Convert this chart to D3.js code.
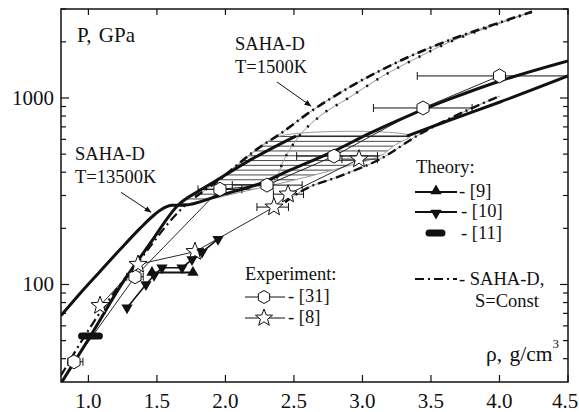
<!DOCTYPE html>
<html><head><meta charset="utf-8">
<script src="https://cdn.jsdelivr.net/npm/d3@7"></script>
</head><body style="margin:0;background:#fff">
<svg id="c" width="579" height="412" style="display:block"></svg>
<script>
// ---------- data ----------
const xTicks=[1.0,1.5,2.0,2.5,3.0,3.5,4.0,4.5];
const xTickLabels=["1.0","1.5","2.0","2.5","3.0","3.5","4.0","4.5"];
const yMajor=[100,1000];
const yMajorLabels=["100","1000"];
const yMinor=[40,50,60,70,80,90,200,300,400,500,600,700,800,900,2000,3000];

// SAHA-D T=13500K isotherm (thick, with plateau)
const sahaT13500=[[0.80,68.1],[0.939,89.5],[1.085,117.5],[1.231,154],[1.377,200],[1.486,238],[1.559,259],[1.610,266],[1.690,266],[1.960,301],[2.274,353],[2.471,410],[2.792,519],[3.055,648],[3.347,810],[3.639,988],[4.004,1234],[4.50,1581]];
// second thick curve (lower-left branch, plateau, upper-right branch)
const thickLeft=[[0.80,29.5],[1.012,52.5],[1.245,101],[1.450,166],[1.654,266],[1.814,320],[1.960,371],[2.179,464],[2.398,566],[2.515,625]];
const plateau=[[2.515,625],[3.325,625]];
const thickRight=[[3.325,625],[3.639,762],[4.004,952],[4.50,1313]];
// SAHA-D T=1500K curves
const saha1500a=[[1.778,294],[1.960,367],[2.230,532],[2.398,641],[2.617,841],[2.909,1146],[3.274,1581],[3.639,2050],[3.931,2438],[4.237,2900]];
const saha1500b=[[2.340,324],[2.376,376],[2.420,453],[2.522,602],[2.690,800],[2.887,988],[3.150,1313],[3.398,1641],[3.639,2000],[3.931,2408],[4.237,2900]];
// SAHA-D isentropes S=Const
const isenA=[[0.80,32.5],[1.012,58.7],[1.194,91.7],[1.413,147],[1.595,218],[1.705,266]];
const isenB=[[2.435,276],[2.566,320],[2.836,381],[3.128,470],[3.420,641],[3.785,873],[4.004,1025]];
// two-phase region boundary
const regionUpper=[[1.668,269],[1.814,316],[1.960,376],[2.106,447],[2.230,532],[2.398,625],[3.347,625]];
const regionLower=[[3.237,559],[3.128,488],[2.887,431],[2.617,381],[2.376,345],[2.106,312],[1.887,286]];
// theory
const theory9=[[1.464,116],[1.763,116]];
const theory10=[[1.282,75],[1.420,100],[1.479,112],[1.537,123],[1.683,123],[1.756,136],[1.829,149],[1.946,175]];
const theory11=[[0.95,53],[1.08,53]];
// experiment
const exp31=[[0.895,38.5],[1.340,110],[1.960,324],[2.303,341],[2.792,488],[3.442,884],[4.0,1313]];
const exp31Err=[[0.85,0.96],[1.28,1.40],[1.80,2.12],[2.05,2.56],[2.52,3.11],[3.08,3.80],[3.40,4.60]];
const exp8=[[1.085,77],[1.362,128],[1.778,150],[2.354,260],[2.457,305],[2.975,470]];
const exp8Err=[null,null,null,[2.23,2.46],[2.35,2.57],[2.85,3.11]];

// ---------- scales ----------
const svg=d3.select("#c");
const L=61,R=568,T=9,B=382;
const x=d3.scaleLinear().domain([0.8,4.5]).range([L,R]);
const y=d3.scaleLog().domain([30,3000]).range([B,T]);
const lineM=d3.line().x(d=>x(d[0])).y(d=>y(d[1])).curve(d3.curveMonotoneX);
const lineL=d3.line().x(d=>x(d[0])).y(d=>y(d[1]));

function label(px,py,str,size,anchor){
  const t=svg.append("text").attr("x",px).attr("y",py).attr("font-size",size)
    .attr("font-family","Tinos, Liberation Serif, Times New Roman")
    .style("font-family","'Tinos', 'Liberation Serif', 'Times New Roman'")
    .attr("fill","#111").text(str);
  if(anchor) t.attr("text-anchor",anchor);
  return t;
}

const defs=svg.append("defs");
defs.append("clipPath").attr("id","plot").append("rect").attr("x",L).attr("y",T).attr("width",R-L).attr("height",B-T);
const regionPts=regionUpper.concat(regionLower);
const regionPath=d3.line().x(d=>x(d[0])).y(d=>y(d[1])).curve(d3.curveCatmullRomClosed.alpha(0.5))(regionPts);
defs.append("clipPath").attr("id","reg").append("path").attr("d",regionPath);
defs.append("marker").attr("id","arr").attr("viewBox","0 0 10 10").attr("refX",9).attr("refY",5)
  .attr("markerWidth",9).attr("markerHeight",7).attr("orient","auto").attr("markerUnits","userSpaceOnUse")
  .append("path").attr("d","M0,1 L10,5 L0,9 Z").attr("fill","#111");

const pg=svg.append("g").attr("clip-path","url(#plot)");

// hatched region
const hg=pg.append("g").attr("clip-path","url(#reg)");
d3.range(y(625)+0.5,y(262),4.8).forEach(yy=>{
  hg.append("line").attr("x1",x(1.6)).attr("x2",x(3.4)).attr("y1",yy).attr("y2",yy)
    .attr("stroke","#333").attr("stroke-width",0.9);
});
pg.append("path").attr("d",regionPath).attr("fill","none").attr("stroke","#999").attr("stroke-width",1);

// gray base lines
[saha1500a,saha1500b,isenB].forEach(d=>{
  pg.append("path").attr("d",lineM(d)).attr("fill","none").attr("stroke","#9a9a9a").attr("stroke-width",1);
});

// experimental connecting lines
pg.append("path").attr("d",lineL(exp31)).attr("fill","none").attr("stroke","#111").attr("stroke-width",0.9);
pg.append("path").attr("d",lineL(exp8)).attr("fill","none").attr("stroke","#111").attr("stroke-width",0.9);

// theory lines
pg.append("path").attr("d",lineL(theory10)).attr("fill","none").attr("stroke","#111").attr("stroke-width",1.6);
pg.append("path").attr("d",lineL(theory9)).attr("fill","none").attr("stroke","#111").attr("stroke-width",2);

// thick curves
[sahaT13500,thickLeft,thickRight].forEach(d=>{
  pg.append("path").attr("d",lineM(d)).attr("fill","none").attr("stroke","#111").attr("stroke-width",3).attr("stroke-linejoin","round");
});
pg.append("path").attr("d",lineL(plateau)).attr("fill","none").attr("stroke","#222").attr("stroke-width",1.3);

// dashed overlays
pg.append("path").attr("d",lineM(saha1500a)).attr("fill","none").attr("stroke","#111").attr("stroke-width",2.6).attr("stroke-dasharray","9,4,2,4");
pg.append("path").attr("d",lineM(saha1500b)).attr("fill","none").attr("stroke","#111").attr("stroke-width",2.6).attr("stroke-dasharray","2,10");
pg.append("path").attr("d",lineM(isenA)).attr("fill","none").attr("stroke","#111").attr("stroke-width",2.2).attr("stroke-dasharray","9,4,2,4");
pg.append("path").attr("d",lineM(isenB)).attr("fill","none").attr("stroke","#111").attr("stroke-width",2.4).attr("stroke-dasharray","9,4,2,4");

// error bars
function errBar(pts,errs){
  pts.forEach((p,i)=>{
    const e=errs[i]; if(!e) return;
    const yy=y(p[1]);
    pg.append("line").attr("x1",x(e[0])).attr("x2",x(e[1])).attr("y1",yy).attr("y2",yy).attr("stroke","#111").attr("stroke-width",1);
    e.forEach(v=>pg.append("line").attr("x1",x(v)).attr("x2",x(v)).attr("y1",yy-4).attr("y2",yy+4).attr("stroke","#111").attr("stroke-width",1));
  });
}
errBar(exp31,exp31Err);
errBar(exp8,exp8Err);

// markers
function hexPath(r){let s="";for(let k=0;k<6;k++){const a=Math.PI/2+k*Math.PI/3;s+=(k?"L":"M")+(r*Math.cos(a)).toFixed(2)+","+(r*Math.sin(a)).toFixed(2);}return s+"Z";}
function starPath(R1,r1){let s="";for(let k=0;k<10;k++){const rr=k%2?r1:R1;const a=-Math.PI/2+k*Math.PI/5;s+=(k?"L":"M")+(rr*Math.cos(a)).toFixed(2)+","+(rr*Math.sin(a)).toFixed(2);}return s+"Z";}
const tri=d3.symbol(d3.symbolTriangle,55)();
pg.selectAll(".hex").data(exp31).enter().append("path").attr("d",hexPath(7))
  .attr("transform",d=>`translate(${x(d[0])},${y(d[1])})`).attr("fill","#fff").attr("stroke","#111").attr("stroke-width",1);
pg.selectAll(".star").data(exp8).enter().append("path").attr("d",starPath(9.5,4))
  .attr("transform",d=>`translate(${x(d[0])},${y(d[1])})`).attr("fill","#fff").attr("stroke","#111").attr("stroke-width",1);
pg.selectAll(".t9").data(theory9).enter().append("path").attr("d",tri)
  .attr("transform",d=>`translate(${x(d[0])},${y(d[1])})`).attr("fill","#111");
pg.selectAll(".t10").data(theory10).enter().append("path").attr("d",tri)
  .attr("transform",d=>`translate(${x(d[0])},${y(d[1])}) rotate(180)`).attr("fill","#111");
pg.append("path").attr("d",lineL(theory11)).attr("stroke","#111").attr("stroke-width",7).attr("stroke-linecap","round");

// arrows
const arrows=[[[1.238,312],[1.457,244]],[[2.376,1219],[2.624,906]]];
arrows.forEach(a=>{
  svg.append("line").attr("x1",x(a[0][0])).attr("y1",y(a[0][1])).attr("x2",x(a[1][0])).attr("y2",y(a[1][1]))
    .attr("stroke","#111").attr("stroke-width",1).attr("marker-end","url(#arr)");
});

// ---------- axes ----------
svg.append("rect").attr("x",L).attr("y",T).attr("width",R-L).attr("height",B-T).attr("fill","none").attr("stroke","#111").attr("stroke-width",1.5);
const ax=svg.append("g").attr("stroke","#111").attr("stroke-width",1.2);
xTicks.forEach(v=>{
  ax.append("line").attr("x1",x(v)).attr("x2",x(v)).attr("y1",B).attr("y2",B-7);
  ax.append("line").attr("x1",x(v)).attr("x2",x(v)).attr("y1",T).attr("y2",T+6);
});
yMajor.forEach(v=>{
  ax.append("line").attr("x1",L).attr("x2",L+8).attr("y1",y(v)).attr("y2",y(v));
  ax.append("line").attr("x1",R).attr("x2",R-8).attr("y1",y(v)).attr("y2",y(v));
});
yMinor.forEach(v=>{
  ax.append("line").attr("x1",L).attr("x2",L+5).attr("y1",y(v)).attr("y2",y(v));
  ax.append("line").attr("x1",R).attr("x2",R-5).attr("y1",y(v)).attr("y2",y(v));
});
xTicks.forEach((v,i)=>label(Math.min(x(v),565),408,xTickLabels[i],21,"middle"));
yMajor.forEach((v,i)=>label(54,y(v)+7,yMajorLabels[i],21,"end"));

// ---------- texts ----------
label(77,42,"P, GPa",21).style("word-spacing","2px");
const rl=label(486,361,"",21.5).style("word-spacing","2px");
rl.append("tspan").text("ρ, g/cm");
rl.append("tspan").attr("dy",-13).attr("font-size",13).text("3");
label(235,50,"SAHA-D",18.5);
label(235,73,"T=1500K",18.5);
label(75,160,"SAHA-D",18.5);
label(75,183,"T=13500K",18.5);

// legend: theory
label(416,173,"Theory:",18.5);
const lg=svg.append("g");
lg.append("line").attr("x1",415).attr("x2",457).attr("y1",192).attr("y2",192).attr("stroke","#111").attr("stroke-width",2);
lg.append("path").attr("d",tri).attr("transform","translate(436,191)").attr("fill","#111");
label(459,197,"- [9]",18.5);
lg.append("line").attr("x1",415).attr("x2",457).attr("y1",212).attr("y2",212).attr("stroke","#111").attr("stroke-width",2);
lg.append("path").attr("d",tri).attr("transform","translate(436,213) rotate(180)").attr("fill","#111");
label(461,217,"- [10]",18.5);
lg.append("line").attr("x1",429).attr("x2",442).attr("y1",233).attr("y2",233).attr("stroke","#111").attr("stroke-width",7).attr("stroke-linecap","round");
label(461,239,"- [11]",18.5);
lg.append("line").attr("x1",415).attr("x2",457).attr("y1",279).attr("y2",279).attr("stroke","#111").attr("stroke-width",2).attr("stroke-dasharray","9,4,2,4");
label(459,285,"- SAHA-D,",18.5);
label(475,307,"S=Const",18.5);
// legend: experiment
label(245,280,"Experiment:",18.5);
lg.append("line").attr("x1",245).attr("x2",285).attr("y1",297).attr("y2",297).attr("stroke","#111").attr("stroke-width",1);
lg.append("path").attr("d",hexPath(6.5)).attr("transform","translate(264,297)").attr("fill","#fff").attr("stroke","#111");
label(288,302,"- [31]",18.5);
lg.append("line").attr("x1",245).attr("x2",285).attr("y1",318).attr("y2",318).attr("stroke","#111").attr("stroke-width",1);
lg.append("path").attr("d",starPath(9,3.8)).attr("transform","translate(264,318)").attr("fill","#fff").attr("stroke","#111");
label(288,323,"- [8]",18.5);
</script>
</body></html>
